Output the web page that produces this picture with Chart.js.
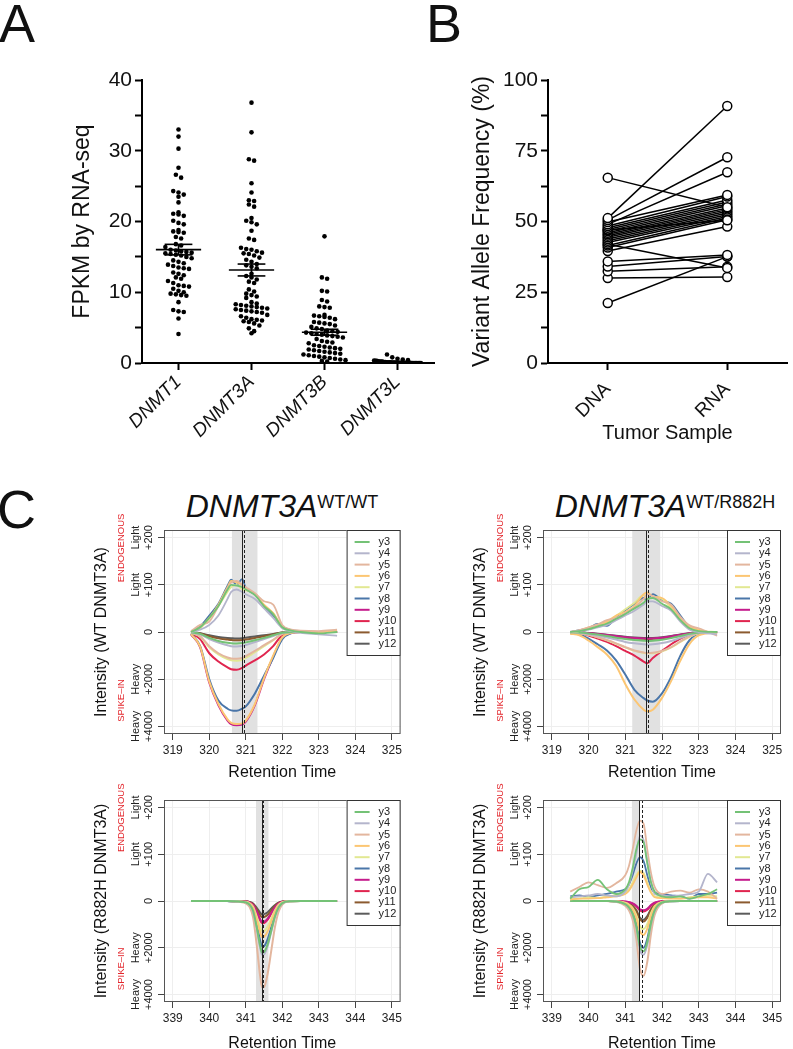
<!DOCTYPE html>
<html>
<head>
<meta charset="utf-8">
<script src="https://cdn.jsdelivr.net/npm/chart.js@4.4.0/dist/chart.umd.min.js"></script>
<style>
html, body { margin: 0; padding: 0; background: #fff; overflow: hidden; width: 793px; height: 1049px; }
body { position: relative; font-family: 'Liberation Sans', Arial, sans-serif; color: #111; }
canvas { position: absolute; }
.letter { position: absolute; font-size: 54px; line-height: 54px; }
.ctitle { position: absolute; width: 400px; text-align: center; font-size: 32px; line-height: 32px; font-style: italic; white-space: nowrap; }
.ctitle span { font-style: normal; font-size: 18px; line-height: 0; vertical-align: 9px; }
</style>
</head>
<body>
<div class="letter" style="left:-1px;top:-4px">A</div>
<div class="letter" style="left:426px;top:-4px">B</div>
<div class="letter" style="left:-3px;top:482px">C</div>
<div class="ctitle" style="left:82px;top:490px">DNMT3A<span>WT/WT</span></div>
<div class="ctitle" style="left:465px;top:490px">DNMT3A<span>WT/R882H</span></div>

<canvas id="chartA" width="440" height="470" style="left:0;top:0"></canvas>
<canvas id="chartB" width="393" height="470" style="left:400px;top:0"></canvas>
<canvas id="chartTL" width="405" height="320" style="left:0;top:470px"></canvas>
<canvas id="chartTR" width="393" height="320" style="left:400px;top:470px"></canvas>
<canvas id="chartBL" width="405" height="320" style="left:0;top:740px"></canvas>
<canvas id="chartBR" width="393" height="320" style="left:400px;top:740px"></canvas>

<script>
// ---- Panel A: FPKM by RNA-seq ----
const geneNames = ['DNMT1', 'DNMT3A', 'DNMT3B', 'DNMT3L'];
const fpkmDNMT1 = [33.0, 32.0, 30.3, 27.6, 26.6, 26.2, 24.3, 24.1, 23.8, 23.5, 22.7, 21.3, 21.1, 21.0, 20.8, 20.1, 19.8, 19.6,
  18.8, 18.6, 18.5, 18.4, 17.8, 17.6, 16.8, 16.6, 16.4, 16.0, 15.9, 15.8, 15.7, 15.6, 15.5, 15.4, 15.3, 15.2, 15.0,
  14.8, 14.5, 14.3, 14.1, 13.9, 13.7, 13.5, 13.4, 13.3, 12.8, 12.6, 12.4, 12.1, 11.9, 11.6, 11.3, 11.0, 10.9, 10.8,
  10.5, 10.2, 10.0, 9.8, 9.7, 9.6, 9.5, 8.6, 7.5, 7.3, 7.2, 6.3, 4.1];
const fpkmDNMT3A = [36.8, 32.6, 28.8, 28.6, 25.4, 24.1, 23.0, 22.9, 22.4, 22.1, 20.5, 20.1, 19.9, 19.6, 18.7, 17.6, 17.4,
  16.3, 16.1, 16.0, 15.8, 15.6, 15.5, 15.4, 15.2, 14.9, 14.6, 14.3, 14.0, 13.8, 13.6, 13.4, 12.6, 12.3, 12.1, 11.8,
  11.5, 11.3, 10.4, 10.1, 9.8, 9.6, 9.4, 9.2, 8.6, 8.4, 8.3, 8.2, 8.1, 8.0, 7.9, 7.8, 7.7, 7.6, 7.5, 7.4, 7.3, 7.2,
  7.1, 6.8, 6.6, 6.4, 6.2, 6.1, 6.0, 5.9, 5.8, 5.6, 5.3, 4.9, 4.5, 4.2];
const fpkmDNMT3B = [17.9, 12.1, 11.9, 10.2, 10.1, 8.9, 8.7, 8.0, 7.9, 7.8, 6.8, 6.7, 6.6, 6.5, 6.4, 6.2, 5.8, 5.7, 5.6,
  5.5, 5.3, 5.1, 4.9, 4.8, 4.6, 4.5, 4.4, 4.3, 4.2, 4.1, 4.0, 3.9, 3.8, 3.7, 3.6, 3.4, 3.1, 3.0, 2.9, 2.8, 2.5, 2.4,
  2.3, 2.2, 2.1, 2.0, 1.9, 1.8, 1.7, 1.6, 1.5, 1.4, 1.3, 1.2, 1.1, 1.0, 0.9, 0.8, 0.7, 0.6, 0.5, 0.4, 0.3, 0.2];
const fpkmDNMT3L = [1.2, 0.8, 0.6, 0.5, 0.4, 0.35, 0.3, 0.3, 0.25, 0.2, 0.2, 0.2, 0.15, 0.15, 0.1, 0.1, 0.1, 0.1,
  0.05, 0.05, 0.05, 0.05, 0.05, 0.02, 0.02, 0.02, 0.02, 0.02, 0.01, 0.01, 0.01, 0.01, 0, 0, 0, 0, 0, 0, 0, 0];
const fpkmTicks = [0, 5, 10, 15, 20, 25, 30, 35, 40];

// ---- Panel B: variant allele frequency, paired DNA -> RNA ----
const sampleNames = ['DNA', 'RNA'];
const dnaVaf = [65.5, 51.2, 50.5, 49.8, 49.0, 48.4, 47.8, 47.2, 47.0, 46.6, 46.0, 45.5, 45.0, 44.4, 43.8, 43.2, 42.6,
  42.0, 41.5, 40.8, 39.6, 35.9, 34.1, 32.4, 30.0, 21.2];
const rnaVaf = [55.0, 90.8, 72.7, 59.4, 67.4, 58.8, 57.6, 56.9, 50.4, 56.2, 55.6, 54.8, 54.2, 53.6, 53.0, 52.4, 51.8,
  33.6, 51.2, 50.6, 48.2, 38.2, 37.6, 34.0, 30.4, 37.6];
const vafTicks = [0, 12.5, 25, 37.5, 50, 62.5, 75, 87.5, 100];

// ---- Panel C: SRM traces (light = endogenous, heavy = spike-in) ----
const ionLabels = ['y3', 'y4', 'y5', 'y6', 'y7', 'y8', 'y9', 'y10', 'y11', 'y12'];
const ionColors = ['#74c276', '#b4b5cc', '#e3b69e', '#fcc673', '#e2e892', '#4a76a9', '#c51c8c', '#e0254f', '#8b5a2f', '#5b5b5b'];
const yTickUnits = [-2, -1, 0, 1, 2];
const wtRtTicks = [319, 320, 321, 322, 323, 324, 325];
const mutRtTicks = [339, 340, 341, 342, 343, 344, 345];

// top-left: WT/WT sample, WT peptide
const wtwtX = [319.5, 319.75, 320, 320.25, 320.5, 320.6, 320.75, 320.9, 321, 321.25, 321.5, 321.75, 322, 322.25, 322.5, 323, 323.5];
const wtwtHeavy = [
  [15, 80, 250, 380, 460, 480, 490, 470, 440, 350, 250, 140, 30, 5, 0, 0, 0],
  [20, 100, 300, 450, 560, 600, 610, 590, 550, 430, 300, 170, 40, 5, 0, 0, 0],
  [30, 180, 600, 900, 1080, 1120, 1130, 1100, 1020, 800, 560, 330, 70, 10, 0, 0, 0],
  [90, 620, 2100, 3050, 3700, 3850, 3900, 3870, 3750, 3050, 1950, 1000, 230, 30, 0, 0, 0],
  [30, 200, 650, 950, 1150, 1200, 1220, 1180, 1100, 850, 600, 350, 80, 10, 0, 0, 0],
  [80, 600, 2000, 2900, 3250, 3320, 3340, 3250, 3150, 2600, 1850, 1100, 300, 50, 0, 0, 0],
  [100, 650, 2150, 3100, 3750, 3900, 3950, 3920, 3800, 3100, 2000, 1050, 250, 40, 0, 0, 0],
  [60, 300, 900, 1250, 1500, 1580, 1600, 1520, 1420, 1200, 950, 600, 120, 20, 0, 0, 0],
  [10, 60, 180, 270, 320, 340, 350, 340, 320, 250, 180, 100, 25, 5, 0, 0, 0],
  [10, 50, 140, 210, 250, 260, 270, 260, 240, 190, 140, 80, 20, 5, 0, 0, 0]
];
const wtwtLight = [
  [0, 10, 30, 55, 90, 100, 98, 95, 90, 78, 55, 38, 10, 3, 0, -3, 0],
  [0, 5, 15, 35, 70, 85, 90, 85, 80, 70, 50, 30, 8, 2, -2, -5, -8],
  [2, 15, 22, 55, 92, 105, 108, 100, 95, 82, 65, 58, 15, 5, 3, 2, 5],
  [0, 10, 30, 58, 95, 108, 105, 100, 92, 80, 58, 40, 12, 3, 2, 0, 3],
  [0, 8, 28, 55, 85, 95, 100, 90, 88, 82, 56, 40, 10, 3, 0, 0, 2],
  [0, 12, 35, 60, 98, 111, 100, 112, 93, 80, 55, 35, 12, 4, 2, 0, 0],
  null, null, null, null
];

// top-right: WT/R882H sample, WT peptide
const wtmutX = [319.5, 319.75, 320, 320.25, 320.5, 320.75, 321, 321.25, 321.5, 321.6, 321.75, 322, 322.25, 322.5, 322.75, 323, 323.5];
const wtmutHeavy = [
  [10, 25, 60, 110, 170, 240, 300, 340, 370, 380, 370, 330, 260, 170, 80, 20, 0],
  [10, 30, 80, 150, 230, 320, 420, 480, 520, 530, 520, 470, 380, 250, 120, 30, 0],
  [15, 50, 120, 220, 340, 480, 640, 780, 870, 890, 880, 800, 640, 400, 180, 40, 0],
  [70, 140, 360, 640, 950, 1430, 2200, 2860, 3290, 3360, 3290, 2790, 2070, 1210, 500, 140, 20],
  [15, 50, 120, 220, 350, 500, 650, 800, 880, 900, 900, 820, 650, 420, 200, 50, 0],
  [40, 100, 280, 520, 780, 1200, 1800, 2450, 2800, 2900, 2950, 2600, 1900, 1000, 350, 80, 10],
  [5, 15, 45, 80, 125, 170, 220, 250, 270, 280, 270, 240, 185, 120, 55, 15, 0],
  [20, 60, 150, 280, 420, 600, 800, 1000, 1250, 1320, 1100, 800, 520, 280, 120, 30, 0],
  [5, 20, 50, 90, 140, 190, 240, 270, 290, 300, 290, 260, 200, 130, 60, 15, 0],
  [5, 15, 40, 75, 115, 160, 200, 230, 250, 255, 250, 220, 170, 110, 50, 12, 0]
];
const wtmutLight = [
  [0, 2, 6, 12, 18, 28, 38, 50, 62, 70, 72, 60, 48, 25, 8, 2, 0],
  [0, 2, 5, 10, 15, 25, 35, 45, 58, 65, 65, 55, 45, 22, 5, 0, -5],
  [0, 4, 10, 16, 25, 30, 40, 52, 70, 80, 76, 65, 58, 32, 14, 8, -8],
  [0, 3, 10, 15, 22, 35, 42, 55, 80, 84, 75, 72, 55, 30, 12, 5, -5],
  [0, 2, 8, 14, 20, 34, 48, 62, 78, 70, 74, 70, 50, 28, 10, 3, 0],
  [0, 4, 8, 17, 13, 32, 46, 60, 72, 68, 80, 67, 60, 35, 10, 2, 0],
  null, null, null, null
];

// bottom-left: WT/WT sample, R882H peptide (spike-in only)
const mutwtX = [339.5, 340, 340.5, 340.8, 341, 341.1, 341.2, 341.3, 341.4, 341.45, 341.5, 341.6, 341.7, 341.8, 341.9, 342, 342.2, 342.5, 343, 343.5];
const mutwtHeavy = [
  [0, 0, 5, 25, 60, 150, 420, 1130, 1960, 2200, 2180, 1840, 1250, 650, 270, 90, 10, 0, 0, 0],
  [0, 0, 5, 25, 60, 160, 440, 1200, 2050, 2300, 2280, 1920, 1300, 680, 280, 90, 10, 0, 0, 0],
  [0, 0, 5, 40, 100, 250, 700, 1900, 3300, 3700, 3680, 3100, 2100, 1100, 450, 150, 20, 0, 0, 0],
  [0, 0, 4, 16, 40, 105, 290, 800, 1380, 1550, 1530, 1300, 880, 460, 190, 60, 8, 0, 0, 0],
  [0, 0, 3, 14, 35, 90, 245, 670, 1160, 1300, 1290, 1090, 740, 390, 160, 50, 6, 0, 0, 0],
  [0, 0, 5, 20, 50, 130, 370, 1000, 1740, 1950, 1930, 1630, 1100, 580, 240, 80, 10, 0, 0, 0],
  [0, 0, 2, 10, 24, 60, 170, 460, 800, 900, 890, 750, 510, 270, 110, 35, 5, 0, 0, 0],
  [0, 0, 2, 10, 25, 65, 180, 490, 850, 950, 940, 800, 540, 280, 115, 40, 5, 0, 0, 0],
  [0, 0, 2, 8, 20, 50, 130, 360, 620, 700, 690, 590, 400, 210, 85, 28, 4, 0, 0, 0],
  [0, 0, 1, 6, 15, 40, 110, 290, 510, 570, 560, 480, 320, 170, 70, 23, 3, 0, 0, 0]
];
const mutwtLight = [null, null, null, null, null, null, null, null, null, null];

// bottom-right: WT/R882H sample, R882H peptide
const mutmutX = [339.5, 339.75, 340, 340.25, 340.5, 340.75, 341, 341.1, 341.2, 341.3, 341.4, 341.5, 341.6, 341.7, 341.8, 342, 342.25, 342.5, 342.75, 343, 343.25, 343.5];
const mutmutHeavy = [
  [0, 0, 0, 0, 4, 20, 130, 270, 540, 1080, 1950, 2150, 1750, 940, 400, 65, 6, 0, 0, 0, 0, 0],
  [0, 0, 0, 0, 4, 22, 140, 290, 580, 1150, 2080, 2300, 1870, 1000, 430, 70, 7, 0, 0, 0, 0, 0],
  [0, 0, 0, 0, 5, 30, 200, 400, 800, 1600, 2900, 3200, 2600, 1400, 600, 100, 10, 0, 0, 0, 0, 0],
  [0, 0, 0, 0, 2, 13, 90, 180, 360, 720, 1300, 1450, 1180, 630, 270, 45, 4, 0, 0, 0, 0, 0],
  [0, 0, 0, 0, 2, 11, 75, 150, 300, 600, 1080, 1200, 980, 520, 220, 37, 4, 0, 0, 0, 0, 0],
  [0, 0, 0, 0, 3, 18, 120, 250, 500, 1000, 1800, 2000, 1620, 870, 380, 60, 6, 0, 0, 0, 0, 0],
  [0, 0, 0, 0, 1, 3, 25, 50, 100, 200, 360, 400, 330, 175, 75, 12, 1, 0, 0, 0, 0, 0],
  [0, 0, 0, 0, 1, 4, 28, 55, 110, 220, 400, 450, 370, 200, 85, 14, 1, 0, 0, 0, 0, 0],
  [0, 0, 0, 0, 1, 8, 55, 110, 220, 440, 780, 880, 720, 380, 160, 27, 3, 0, 0, 0, 0, 0],
  [0, 0, 0, 0, 1, 7, 50, 100, 200, 400, 720, 800, 650, 350, 150, 25, 2, 0, 0, 0, 0, 0]
];
const mutmutLight = [
  [5, 25, 30, 45, 25, 15, 25, 40, 70, 110, 132, 125, 80, 40, 20, 10, 8, 10, 5, 10, 15, 25],
  [8, 10, 12, 15, 12, 10, 20, 35, 65, 100, 140, 130, 85, 40, 15, 12, 10, 12, 15, 20, 58, 40],
  [20, 30, 40, 34, 28, 38, 55, 75, 110, 150, 172, 165, 110, 60, 30, 15, 20, 22, 18, 25, 20, 5],
  [3, 5, 5, 6, 8, 10, 15, 22, 35, 50, 62, 55, 35, 18, 8, 6, 5, 5, 6, 8, 8, 5],
  [5, 5, 8, 6, 10, 12, 18, 25, 40, 55, 65, 60, 40, 20, 10, 8, 6, 5, 8, 10, 12, 10],
  [10, 12, 8, 12, 15, 20, 25, 35, 55, 80, 94, 85, 55, 28, 18, 15, 12, 10, 5, 15, 15, 18],
  null, null, null, null
];

// shaded window and marker lines (retention time) for TL, TR, BL, BR
const windowStart = [320.62, 321.19, 341.28, 341.18];
const windowEnd = [321.32, 321.95, 341.62, 341.38];
const solidMark = [320.9, 321.57, 341.45, 341.38];
const dashedMark = [320.95, 321.62, 341.47, 341.46];

Chart.defaults.font.family = "'Liberation Sans', Arial, Helvetica, sans-serif";
Chart.defaults.color = '#111';
Chart.defaults.animation = false;
Chart.defaults.plugins.legend.display = false;
Chart.defaults.plugins.tooltip.enabled = false;

// simple row-binned swarm so dots of similar value sit side by side
function swarm(values, center) {
  const rows = {};
  values.forEach(v => {
    const k = Math.round(v / 0.8);
    (rows[k] = rows[k] || []).push(v);
  });
  const pts = [];
  Object.values(rows).forEach(row => {
    let dx = 0.072;
    if (row.length * dx > 0.66) dx = 0.66 / row.length;
    row.forEach((v, k) => pts.push({ x: center + (k - (row.length - 1) / 2) * dx, y: v }));
  });
  return pts;
}

function meanSem(v) {
  const m = v.reduce((a, b) => a + b, 0) / v.length;
  const sd = Math.sqrt(v.reduce((a, b) => a + (b - m) * (b - m), 0) / (v.length - 1));
  return [m, sd / Math.sqrt(v.length)];
}

const axisBlack = {
  border: { color: '#000', width: 2 },
  grid: { drawOnChartArea: false, tickLength: 7, tickColor: '#000', tickWidth: 2 }
};

// Panel A
const setsA = [];
[fpkmDNMT1, fpkmDNMT3A, fpkmDNMT3B, fpkmDNMT3L].forEach((vals, i) => {
  setsA.push({ data: swarm(vals, i), pointRadius: 2.3, pointBackgroundColor: '#000', pointBorderWidth: 0 });
});
[fpkmDNMT1, fpkmDNMT3A, fpkmDNMT3B, fpkmDNMT3L].forEach((vals, i) => {
  const [m, se] = meanSem(vals);
  const seg = pts => ({ data: pts, showLine: true, pointRadius: 0, borderColor: '#000', borderWidth: 1.6 });
  setsA.push(seg([{ x: i - 0.31, y: m }, { x: i + 0.31, y: m }]));
  setsA.push(seg([{ x: i - 0.19, y: m + se }, { x: i + 0.19, y: m + se }]));
  setsA.push(seg([{ x: i - 0.19, y: m - se }, { x: i + 0.19, y: m - se }]));
  setsA.push(seg([{ x: i, y: m - se }, { x: i, y: m + se }]));
});

new Chart(document.getElementById('chartA'), {
  type: 'scatter',
  data: { datasets: setsA },
  options: {
    responsive: false,
    layout: { padding: { top: 80, right: 6, left: 0, bottom: 0 } },
    scales: {
      x: {
        type: 'linear', min: -0.5, max: 3.5,
        afterBuildTicks: s => { s.ticks = geneNames.map((g, i) => ({ value: i })); },
        afterFit: s => { s.height = 107; },
        ...axisBlack,
        ticks: { callback: v => geneNames[v], minRotation: 45, maxRotation: 45, padding: 1, color: '#111', font: { size: 19, style: 'italic' } }
      },
      y: {
        min: 0, max: 40,
        afterBuildTicks: s => { s.ticks = fpkmTicks.map(v => ({ value: v })); },
        afterFit: s => { s.width = 142; },
        ...axisBlack,
        ticks: { callback: v => (v % 10 === 0 ? v : ''), autoSkip: false, color: '#111', font: { size: 21 } },
        title: { display: true, text: 'FPKM by RNA-seq', color: '#111', font: { size: 23 }, padding: { top: 69 } }
      }
    }
  }
});

// Panel B
const setsB = dnaVaf.map((d, i) => ({
  data: [{ x: 0, y: d }, { x: 1, y: rnaVaf[i] }],
  showLine: true, borderColor: '#000', borderWidth: 1.5,
  pointRadius: 4.5, pointBorderWidth: 1.5, pointBorderColor: '#000', pointBackgroundColor: '#fff'
}));

new Chart(document.getElementById('chartB'), {
  type: 'scatter',
  data: { datasets: setsB },
  options: {
    responsive: false,
    layout: { padding: { top: 80, right: 1, left: 0, bottom: 0 } },
    scales: {
      x: {
        type: 'linear', min: -0.5, max: 1.5,
        afterBuildTicks: s => { s.ticks = sampleNames.map((g, i) => ({ value: i })); },
        afterFit: s => { s.height = 107; },
        ...axisBlack,
        ticks: { callback: v => sampleNames[v], minRotation: 45, maxRotation: 45, padding: 8, color: '#111', font: { size: 19 } },
        title: { display: true, text: 'Tumor Sample', color: '#111', font: { size: 20 }, padding: { top: 0, bottom: 25 } }
      },
      y: {
        min: 0, max: 100,
        afterBuildTicks: s => { s.ticks = vafTicks.map(v => ({ value: v })); },
        afterFit: s => { s.width = 148; },
        ...axisBlack,
        ticks: { callback: v => (v % 25 === 0 ? v : ''), autoSkip: false, color: '#111', font: { size: 21 } },
        title: { display: true, text: 'Variant Allele Frequency (%)', color: '#111', font: { size: 23 }, padding: { top: 69 } }
      }
    }
  }
});

// Panel C
function srmPlugin(k, yTitle) {
  const rot = (ctx, text, px, py, font, color) => {
    ctx.save();
    ctx.translate(px, py);
    ctx.rotate(-Math.PI / 2);
    ctx.font = font;
    ctx.fillStyle = color;
    ctx.textAlign = 'center';
    ctx.textBaseline = 'middle';
    ctx.fillText(text, 0, 0);
    ctx.restore();
  };
  return {
    id: 'srm',
    beforeDatasetsDraw(chart) {
      const { ctx, chartArea: a, scales: { x } } = chart;
      const x0 = x.getPixelForValue(windowStart[k]);
      const x1 = x.getPixelForValue(windowEnd[k]);
      ctx.save();
      ctx.fillStyle = '#e1e1e1';
      ctx.fillRect(x0, a.top, x1 - x0, a.bottom - a.top);
      ctx.restore();
    },
    afterDraw(chart) {
      const { ctx, chartArea: a, scales: { x, y } } = chart;
      const ff = "'Liberation Sans', Arial, sans-serif";
      ctx.save();
      ctx.strokeStyle = '#222';
      ctx.lineWidth = 1;
      let px = Math.round(x.getPixelForValue(solidMark[k])) + 0.5;
      ctx.beginPath(); ctx.moveTo(px, a.top); ctx.lineTo(px, a.bottom); ctx.stroke();
      ctx.setLineDash([3, 2]);
      px = Math.round(x.getPixelForValue(dashedMark[k])) + 0.5;
      ctx.beginPath(); ctx.moveTo(px, a.top); ctx.lineTo(px, a.bottom); ctx.stroke();
      ctx.setLineDash([]);

      // frame
      ctx.strokeStyle = '#555';
      ctx.strokeRect(a.left + 0.5, a.top + 0.5, a.right - a.left - 1, a.bottom - a.top - 1);

      // legend box
      const bw = 54, bh = 126, bx = a.right - bw, by = a.top;
      ctx.fillStyle = '#fff';
      ctx.fillRect(bx, by, bw, bh);
      ctx.strokeStyle = '#333';
      ctx.strokeRect(bx + 0.5, by + 0.5, bw - 1, bh - 1);
      ctx.font = '11px ' + ff;
      ctx.textAlign = 'left';
      ctx.textBaseline = 'middle';
      ionLabels.forEach((lab, i) => {
        const ry = by + 12 + i * 11.3;
        ctx.strokeStyle = ionColors[i];
        ctx.lineWidth = 2;
        ctx.beginPath(); ctx.moveTo(bx + 8, ry); ctx.lineTo(bx + 23, ry); ctx.stroke();
        ctx.fillStyle = '#222';
        ctx.fillText(lab, bx + 32, ry);
      });

      // mirrored y labels
      y.ticks.forEach(t => {
        const py = y.getPixelForValue(t.value);
        if (t.value > 0) {
          rot(ctx, '+' + t.value * 100, a.left - 15, py, '11px ' + ff, '#222');
          rot(ctx, 'Light', a.left - 28, py, '11px ' + ff, '#222');
        } else if (t.value < 0) {
          rot(ctx, '+' + (-t.value * 2000), a.left - 15, py, '11px ' + ff, '#222');
          rot(ctx, 'Heavy', a.left - 28, py, '11px ' + ff, '#222');
        } else {
          rot(ctx, '0', a.left - 15, py, '11px ' + ff, '#222');
        }
      });
      rot(ctx, 'ENDOGENOUS', a.left - 43, y.getPixelForValue(1.78), '9.5px ' + ff, '#e3262c');
      rot(ctx, 'SPIKE\u2013IN', a.left - 43, y.getPixelForValue(-1.45), '9.5px ' + ff, '#e3262c');
      rot(ctx, yTitle, a.left - 62, y.getPixelForValue(0), '16px ' + ff, '#111');
      ctx.restore();
    }
  };
}

function drawSrm(id, k, xs, heavy, light, rtTicks, yTitle, areaLeft, areaBottom, padRight, titlePad) {
  const line = { showLine: true, pointRadius: 0, fill: false, cubicInterpolationMode: 'monotone' };
  const datasets = [];
  light.forEach((row, i) => {
    if (!row) return;
    datasets.push({ ...line, data: xs.map((xv, j) => ({ x: xv, y: row[j] / 100 })), borderColor: ionColors[i], borderWidth: 1.8 });
  });
  heavy.forEach((row, i) => {
    datasets.push({ ...line, data: xs.map((xv, j) => ({ x: xv, y: -row[j] / 2000 })), borderColor: ionColors[i], borderWidth: 2 });
  });
  const span = rtTicks[rtTicks.length - 1] - rtTicks[0];
  new Chart(document.getElementById(id), {
    type: 'scatter',
    data: { datasets },
    options: {
      responsive: false,
      layout: { padding: { top: 60, right: padRight, left: 0, bottom: 0 } },
      scales: {
        x: {
          type: 'linear', min: rtTicks[0] - span * 0.04, max: rtTicks[rtTicks.length - 1] + span * 0.04,
          afterBuildTicks: s => { s.ticks = rtTicks.map(v => ({ value: v })); },
          afterFit: s => { s.height = 320 - areaBottom; },
          border: { display: false },
          grid: { color: '#eeeeee', tickLength: 6, tickColor: '#444' },
          ticks: { autoSkip: false, maxRotation: 0, padding: 3, color: '#222', font: { size: 12 } },
          title: { display: true, text: 'Retention Time', color: '#111', font: { size: 16 }, padding: { top: 0, bottom: titlePad } }
        },
        y: {
          min: -2.16, max: 2.16,
          afterBuildTicks: s => { s.ticks = yTickUnits.map(v => ({ value: v })); },
          afterFit: s => { s.width = areaLeft; },
          border: { display: false },
          grid: { color: '#eeeeee', tickLength: 6, tickColor: '#444' },
          ticks: { display: false }
        }
      }
    },
    plugins: [srmPlugin(k, yTitle)]
  });
}

drawSrm('chartTL', 0, wtwtX, wtwtHeavy, wtwtLight, wtRtTicks, 'Intensity (WT DNMT3A)', 164, 264, 4, 8);
drawSrm('chartTR', 1, wtmutX, wtmutHeavy, wtmutLight, wtRtTicks, 'Intensity (WT DNMT3A)', 143, 264, 12, 8);
drawSrm('chartBL', 2, mutwtX, mutwtHeavy, mutwtLight, mutRtTicks, 'Intensity (R882H DNMT3A)', 164, 262, 4, 7);
drawSrm('chartBR', 3, mutmutX, mutmutHeavy, mutmutLight, mutRtTicks, 'Intensity (R882H DNMT3A)', 143, 262, 12, 7);
</script>
</body>
</html>
